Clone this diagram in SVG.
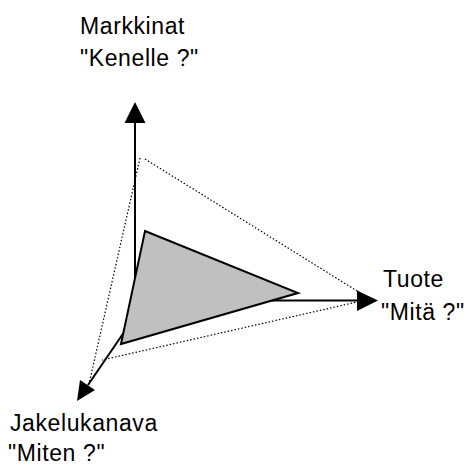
<svg xmlns="http://www.w3.org/2000/svg" width="474" height="465" viewBox="0 0 474 465">
<style>
text{font-family:"Liberation Sans",Arial,sans-serif;font-size:23px;letter-spacing:0.6px;fill:#000}
.axis{stroke:#000;stroke-width:2;fill:none}
.dot{stroke:#000;stroke-width:1.2;stroke-dasharray:1.5 2;fill:none}
.head{fill:#000;stroke:none}
</style>
<rect width="474" height="465" fill="#fff"/>
<g id="connectors">
<line class="axis" x1="135" y1="300" x2="135" y2="120"/>
<polygon class="head" points="135,102 124.5,123 145.5,123"/>
<line class="axis" x1="135" y1="300.5" x2="358" y2="300.5"/>
<polygon class="head" points="378,300.5 357,290.5 357,311"/>
<line class="axis" x1="146" y1="300" x2="88" y2="385"/>
<polygon class="head" points="77,401 80,380 95,390"/>
</g>
<g id="dotted-triangle">
<polyline class="dot" points="145,159 370,299 102,360"/>
<polyline class="dot" points="140,158 89,384"/>
</g>
<g id="gray-triangle">
<polygon points="145,231 298,293 121,344" fill="#c0c0c0" stroke="#000" stroke-width="2" stroke-linejoin="miter"/>
</g>
<g id="markkinat">
<text x="80" y="34">Markkinat</text>
<text x="80" y="66">"Kenelle ?"</text>
</g>
<g id="tuote">
<text x="383" y="287">Tuote</text>
<text x="381" y="320">"Mitä ?"</text>
</g>
<g id="jakelukanava">
<text x="10" y="431">Jakelukanava</text>
<text x="8" y="461">"Miten ?"</text>
</g>
</svg>
